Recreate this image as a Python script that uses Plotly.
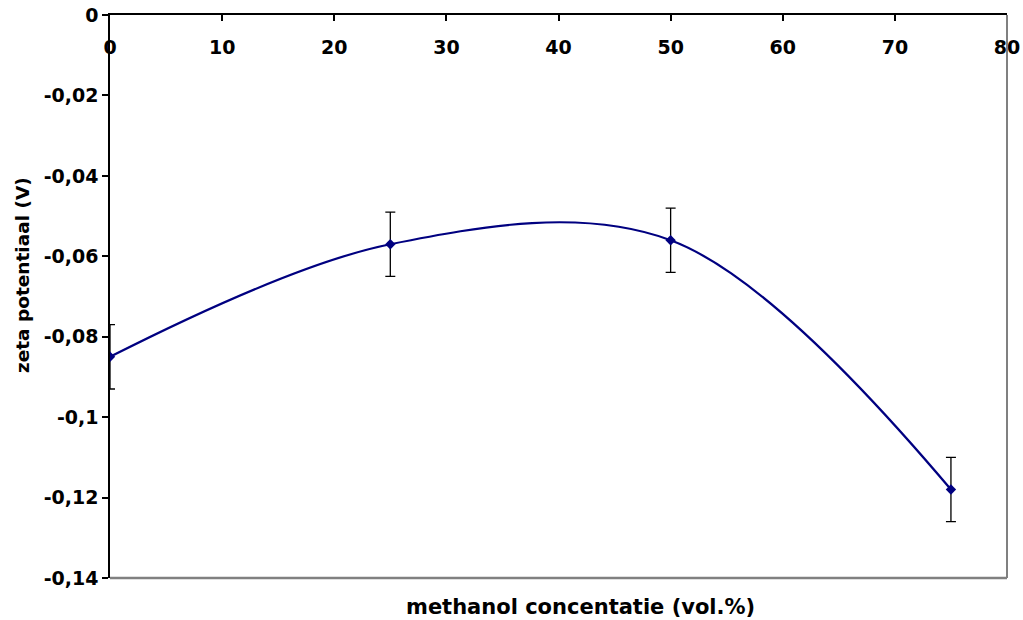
import plotly.graph_objects as go

# methanol concentration (vol.%) and measured zeta potential (V)
methanol = [0, 25, 50, 75]
zeta = [-0.085, -0.057, -0.056, -0.118]
zeta_err = [0.008, 0.008, 0.008, 0.008]

x_ticks = [0, 10, 20, 30, 40, 50, 60, 70, 80]
y_ticks = [0, -0.02, -0.04, -0.06, -0.08, -0.10, -0.12, -0.14]
y_tick_text = ["0", "-0,02", "-0,04", "-0,06", "-0,08", "-0,1", "-0,12", "-0,14"]

navy = "#000080"
family = "DejaVu Sans"


def bold(size):
    return dict(family=family, size=size, color="black", weight="bold")


fig = go.Figure()
fig.add_trace(go.Scatter(
    x=methanol, y=zeta,
    mode="lines+markers",
    line=dict(color=navy, width=2.2, shape="spline", smoothing=1.0),
    marker=dict(symbol="diamond", size=8, color=navy),
    error_y=dict(type="data", array=zeta_err, visible=True,
                 color="black", thickness=1.3, width=5),
    showlegend=False,
))

fig.update_layout(
    width=1023, height=620,
    margin=dict(l=110, r=16, t=15, b=42),
    paper_bgcolor="white", plot_bgcolor="white",
    font=bold(18),
    xaxis=dict(
        side="top", range=[0, 80], tickvals=x_ticks,
        ticks="inside", ticklen=6, tickcolor="black", tickwidth=1.5,
        ticklabelposition="inside", ticklabelstandoff=21,
        ticklabeloverflow="allow", automargin=False,
        showline=True, linecolor="black", linewidth=2,
        showgrid=False, zeroline=False,
        tickfont=bold(19),
    ),
    yaxis=dict(
        range=[-0.14, 0], tickvals=y_ticks, ticktext=y_tick_text,
        ticks="outside", ticklen=6, tickcolor="black", tickwidth=1.5,
        showline=True, linecolor="black", linewidth=1.5,
        showgrid=False, zeroline=False, automargin=False,
        tickfont=bold(19),
    ),
    shapes=[
        dict(type="line", xref="paper", yref="paper", x0=0, x1=1, y0=0, y1=0,
             line=dict(color="#808080", width=2.5)),
        dict(type="line", xref="paper", yref="paper", x0=1, x1=1, y0=0, y1=1,
             line=dict(color="#808080", width=2)),
    ],
    annotations=[
        dict(text="methanol concentatie (vol.%)", xref="paper", yref="paper",
             x=0.524, y=0, yshift=-29, showarrow=False,
             xanchor="center", yanchor="middle", font=bold(21)),
        dict(text="zeta potentiaal (V)", xref="paper", yref="paper",
             x=0, xshift=-88, y=0.538, textangle=-90, showarrow=False,
             xanchor="center", yanchor="middle", font=bold(18.5)),
    ],
)

fig.write_html("out.html")
